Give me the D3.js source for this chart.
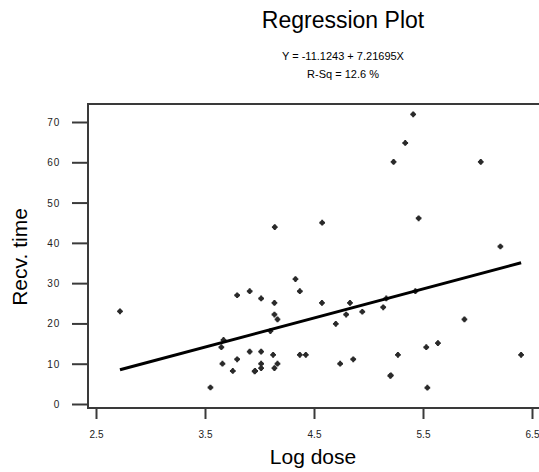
<!DOCTYPE html>
<html>
<head>
<meta charset="utf-8">
<script src="https://cdn.jsdelivr.net/npm/d3@7"></script>
<style>
  body { margin: 0; background: #fff; }
  svg { display: block; font-family: "Liberation Sans", Arial, sans-serif; }
  .tick text { fill: #222; }
</style>
</head>
<body>
<script>
var logDose = [
    2.72, 3.55, 3.65, 3.67, 3.66, 3.755, 3.795, 3.795, 3.91, 3.91,
    3.96, 3.955, 4.015, 4.015, 4.015, 4.015, 4.10, 4.125, 4.137, 4.137,
    4.165, 4.137, 4.165, 4.14, 4.33, 4.37, 4.37, 4.425, 4.575, 4.573,
    4.70, 4.74, 4.795, 4.83, 4.86, 4.943, 5.135, 5.163, 5.20, 5.205,
    5.27, 5.43, 5.53, 5.54, 5.637, 5.88, 6.21, 6.40, 5.41, 5.337,
    5.23, 6.03, 5.46
];
var recvTime = [
    23, 4.1, 14.1, 15.9, 10, 8.2, 11.1, 27, 28, 13,
    8.2, 8.1, 26.2, 13, 10, 8.9, 18.1, 12.2, 25.1, 22.2,
    21, 8.9, 10, 43.9, 31, 28, 12.2, 12.2, 45, 25.1,
    19.9, 10, 22.2, 25.1, 11.1, 22.9, 24, 26.2, 7, 7.1,
    12.2, 28, 14.1, 4.05, 15.1, 21, 39.1, 12.2, 71.9, 64.8,
    60.1, 60.1, 46.1
];
var xTicks = [2.5, 3.5, 4.5, 5.5, 6.5];
var yTicks = [0, 10, 20, 30, 40, 50, 60, 70];

// fitted line from the caption
var intercept = -11.1243;
var slope = 7.21695;
var rSq = 12.6;

var width = 539, height = 472;

var svg = d3.select("body").append("svg")
    .attr("width", width)
    .attr("height", height);

var x = d3.scaleLinear().domain([2.5, 6.5]).range([96, 532]);
var y = d3.scaleLinear().domain([0, 70]).range([404, 122]);

var frameColor = "#3a3a3a";

// titles
svg.append("text")
    .attr("x", 343).attr("y", 28)
    .attr("text-anchor", "middle")
    .style("font-size", "23px")
    .text("Regression Plot");

svg.append("text")
    .attr("x", 343).attr("y", 60)
    .attr("text-anchor", "middle")
    .style("font-size", "11px")
    .text("Y = " + intercept + " + " + slope + "X");

svg.append("text")
    .attr("x", 343).attr("y", 78)
    .attr("text-anchor", "middle")
    .style("font-size", "11px")
    .text("R-Sq = " + rSq + " %");

// axes
var xAxis = svg.append("g")
    .attr("transform", "translate(0,408)")
    .call(d3.axisBottom(x).tickValues(xTicks).tickSize(11).tickSizeOuter(0)
        .tickFormat(d3.format(".1f")));
xAxis.select(".domain").remove();
xAxis.selectAll(".tick line").attr("stroke", frameColor).attr("stroke-width", 2);
xAxis.selectAll(".tick text").attr("y", 23).style("font-size", "10px");

var yAxis = svg.append("g")
    .attr("transform", "translate(88,0)")
    .call(d3.axisLeft(y).tickValues(yTicks).tickSize(16).tickSizeOuter(0));
yAxis.select(".domain").remove();
yAxis.selectAll(".tick line").attr("stroke", frameColor).attr("stroke-width", 2);
yAxis.selectAll(".tick text").attr("x", -28).attr("dy", "0.35em")
    .style("font-size", "10px").style("letter-spacing", "0.8px");

// frame: top, left, bottom
svg.append("path")
    .attr("d", "M" + width + ",104H88V408H" + width)
    .attr("fill", "none")
    .attr("stroke", frameColor)
    .attr("stroke-width", 2);

// axis labels
svg.append("text")
    .attr("x", 313).attr("y", 464)
    .attr("text-anchor", "middle")
    .style("font-size", "21px")
    .text("Log dose");

svg.append("text")
    .attr("transform", "translate(27,257) rotate(-90)")
    .attr("text-anchor", "middle")
    .style("font-size", "21px")
    .text("Recv. time");

// points
var points = logDose.map(function (d, i) { return [d, recvTime[i]]; });

var pts = svg.append("g").attr("fill", "#2a2a2a");
pts.selectAll("circle").data(points).enter().append("circle")
    .attr("cx", function (d) { return x(d[0]); })
    .attr("cy", function (d) { return y(d[1]); })
    .attr("r", 2.3);
pts.selectAll("path").data(points).enter().append("path")
    .attr("d", d3.symbol(d3.symbolCross, 18))
    .attr("transform", function (d) { return "translate(" + x(d[0]) + "," + y(d[1]) + ")"; });

// regression line
var xMin = d3.min(logDose), xMax = d3.max(logDose);
svg.append("line")
    .attr("x1", x(xMin)).attr("y1", y(intercept + slope * xMin))
    .attr("x2", x(xMax)).attr("y2", y(intercept + slope * xMax))
    .attr("stroke", "#000")
    .attr("stroke-width", 3);
</script>
</body>
</html>
